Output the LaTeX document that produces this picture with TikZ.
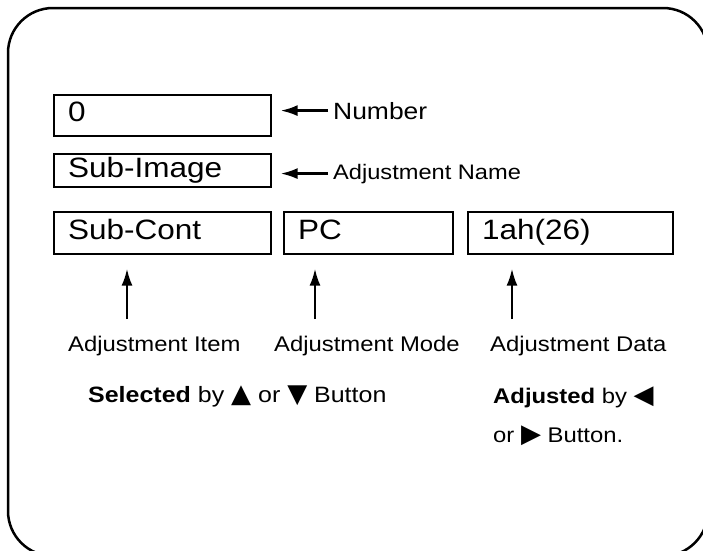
\documentclass[tikz,border=0pt]{standalone}
\usepackage{fontspec}
\setmainfont{Liberation Sans}[FakeStretch=1.125]
\newfontfamily\symfont{DejaVu Sans}
\usetikzlibrary{arrows.meta}

\newcommand{\btn}[1]{{\symfont\fontsize{26}{30}\selectfont #1}}

\tikzset{
  field/.style={shape=rectangle,draw=black,line width=1.2pt,inner xsep=14pt,inner ysep=0pt,
    align=left,text height=22pt,text depth=10pt,font=\fontsize{28}{34}\selectfont},
  caption/.style={anchor=base west,inner sep=0pt,font=\fontsize{21.2}{26}\selectfont},
  pointer/.style={-{Latex[length=17pt,width=11pt]},draw=black,line width=2.4pt},
}

\begin{document}
\begin{tikzpicture}[x=1pt,y=-1pt]
\useasboundingbox (0,0) rectangle (703,550);
\clip (0,0) rectangle (703,550);
\draw[line width=2.5pt,rounded corners=45pt] (8,8) rectangle (708,556);

\node[field,minimum width=217pt,minimum height=41pt,text width=189pt] (numbox) at (162.5,115.5) {0};
\node[field,minimum width=217pt,minimum height=33pt,text width=189pt,text height=22pt,text depth=9pt] (namebox) at (162.5,170.5) {Sub-Image};
\node[field,minimum width=217pt,minimum height=42pt,text width=189pt] (itembox) at (162.5,233) {Sub-Cont};
\node[field,minimum width=169pt,minimum height=42pt,text width=141pt] (modebox) at (368.5,233) {PC};
\node[field,minimum width=205pt,minimum height=42pt,text width=177pt] (databox) at (570.5,233) {1ah(26)};

\node[caption,font=\fontsize{23.5}{28}\selectfont] (numlbl) at (333,119) {Number};
\node[caption,font=\fontsize{21}{26}\selectfont] (namelbl) at (333,179) {Adjustment Name};
\node[caption] (itemlbl) at (68,351) {Adjustment Item};
\node[caption] (modelbl) at (274,351) {Adjustment Mode};
\node[caption] (datalbl) at (490,351) {Adjustment Data};
\node[caption,font=\fontsize{22.2}{27}\selectfont] (sellbl) at (88,402) {\textbf{Selected} by \btn{▲} or \btn{▼} Button};
\node[caption] (adjlbl) at (493,403) {\textbf{Adjusted} by \btn{◀}};
\node[caption] (orlbl) at (493,442) {or \btn{▶} Button.};

\coordinate (itemtail) at (127,319);
\coordinate (modetail) at (315,319);
\coordinate (datatail) at (512,319);

\draw[pointer,shorten <=5pt,shorten >=9pt] (numlbl.west) -- (numlbl.west -| numbox.east);
\draw[pointer,shorten <=5pt,shorten >=9pt] (namelbl.west) -- (namelbl.west -| namebox.east);
\draw[pointer,shorten >=14pt] (itemtail) -- (itemtail |- itembox.south);
\draw[pointer,shorten >=14pt] (modetail) -- (modetail |- modebox.south);
\draw[pointer,shorten >=14pt] (datatail) -- (datatail |- databox.south);
\end{tikzpicture}
\end{document}
